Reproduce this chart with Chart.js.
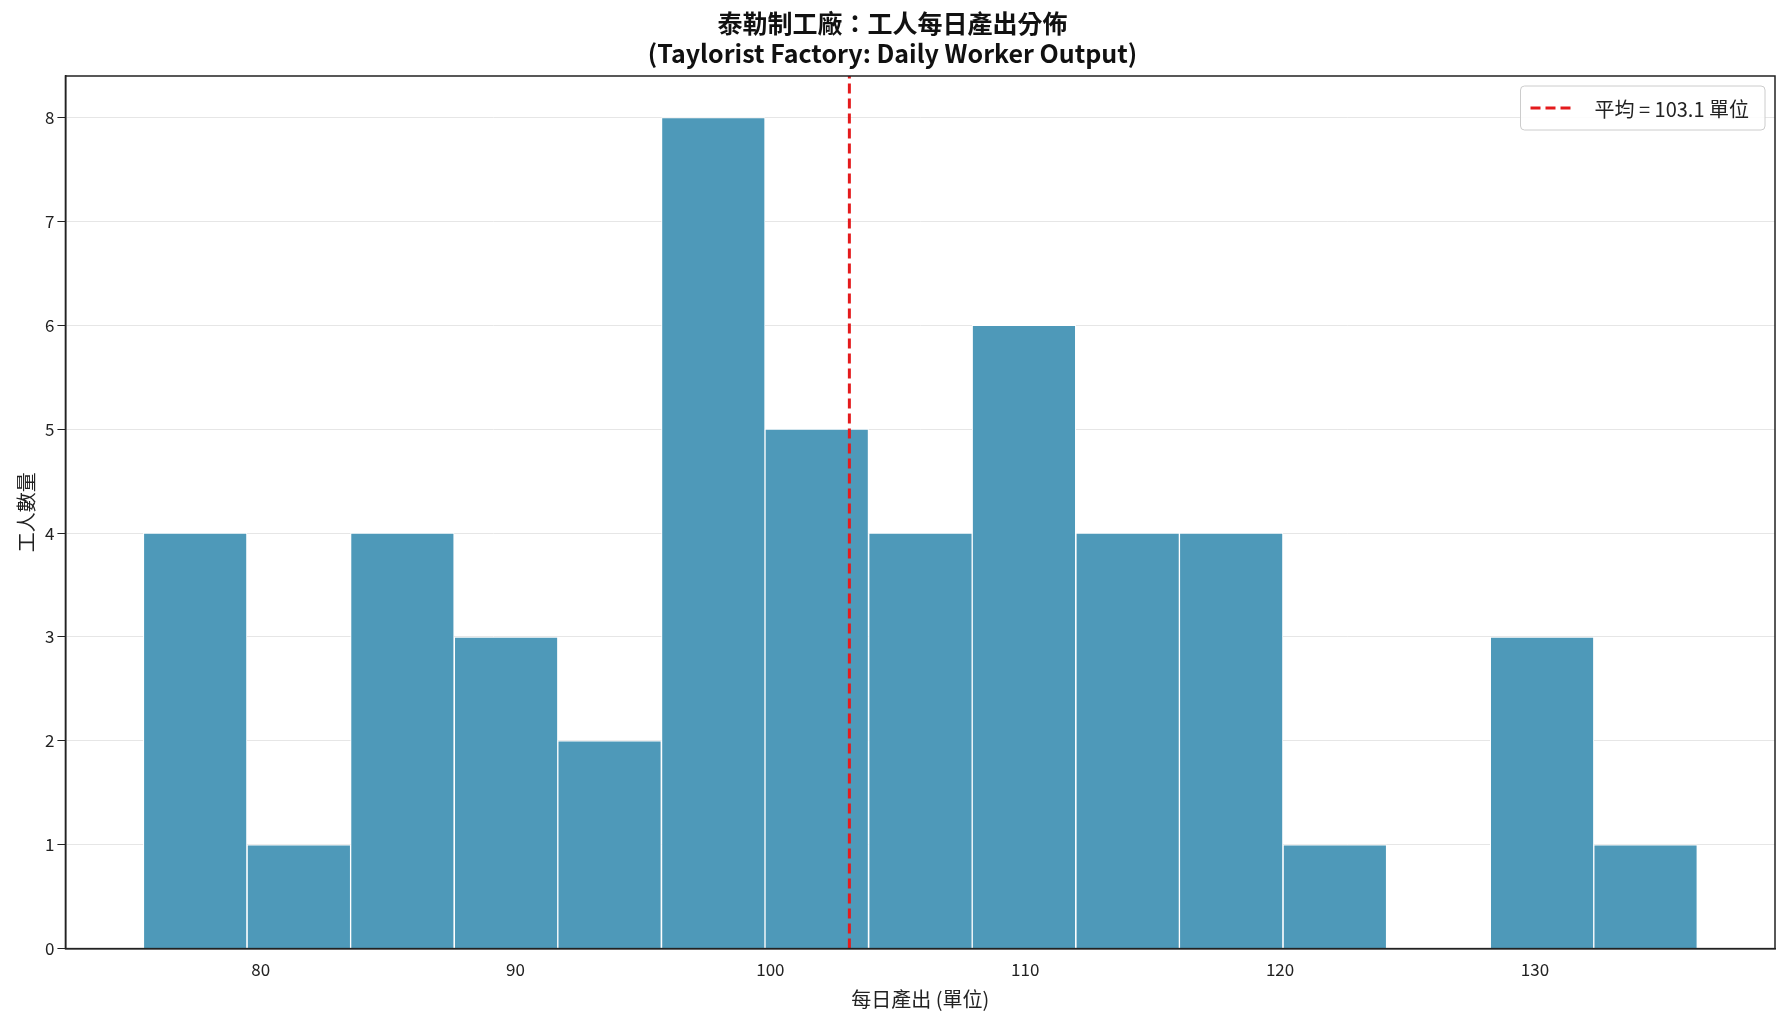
<!DOCTYPE html>
<html><head><meta charset="utf-8">
<script src="https://cdn.jsdelivr.net/npm/chart.js@4"></script>
<style>html,body{margin:0;background:#fff}#w{width:1783px;height:1029px}</style>
</head><body><div id="w"><canvas id="c"></canvas></div>
<script>
const binCenters = [77.43,81.50,85.56,89.63,93.69,97.76,101.82,105.89,109.95,114.02,118.08,122.15,126.21,130.28,134.34];
const counts = [4,1,4,3,2,8,5,4,6,4,4,1,0,3,1];
const meanValue = 103.1;
const xTicks = [80,90,100,110,120,130];
const yTicks = [0,1,2,3,4,5,6,7,8];
const F = "'Noto Sans CJK TC','Noto Sans',sans-serif";
const frame = {id:'frame',afterDraw(ch){const a=ch.chartArea,c=ch.ctx;c.save();c.strokeStyle='#222';c.lineWidth=1.5;c.strokeRect(a.left,a.top,a.right-a.left,a.bottom-a.top);
 const ds=ch.data.datasets[0];c.font='20px '+F;const tw=c.measureText(ds.label).width;
 const w=tw+90,h=44,x=a.right-w-10,y=a.top+10;
 c.fillStyle='rgba(255,255,255,0.85)';c.strokeStyle='#ccc';c.lineWidth=1;c.beginPath();c.roundRect(x,y,w,h,4);c.fill();c.stroke();
 c.strokeStyle=ds.borderColor;c.lineWidth=3;c.setLineDash([10,5]);c.beginPath();c.moveTo(x+10,y+h/2);c.lineTo(x+50,y+h/2);c.stroke();c.setLineDash([]);
 c.fillStyle='#222';c.textBaseline='middle';c.fillText(ds.label,x+74,y+h/2+1);c.restore();}};
new Chart(document.getElementById('c'),{
 type:'bar',
 data:{datasets:[
  {type:'line',label:'平均 = '+meanValue+' 單位',data:[{x:meanValue,y:0},{x:meanValue,y:8.4}],borderColor:'#e41a1c',borderWidth:3,borderDash:[10,5],pointRadius:0,order:0},
  {label:'hist',data:binCenters.map((x,i)=>({x,y:counts[i]})),backgroundColor:'#4e99b9',borderColor:'#ffffff',borderWidth:1,barPercentage:1,categoryPercentage:1,order:1}
 ]},
 options:{responsive:true,maintainAspectRatio:false,animation:false,
  layout:{padding:{left:10,right:8,top:0,bottom:14}},
  plugins:{
   title:{display:true,text:['泰勒制工廠：工人每日產出分佈','(Taylorist Factory: Daily Worker Output)'],font:{family:F,size:25,weight:'bold'},color:'#111',padding:{top:8,bottom:8},lineHeight:1.2},
   legend:{display:false},
   tooltip:{enabled:false}
  },
  scales:{
   x:{type:'linear',offset:false,min:72.34,max:139.42,grid:{display:false},border:{color:'#222',width:1.5},
      afterBuildTicks(s){s.ticks=xTicks.map(v=>({value:v}));},
      ticks:{font:{family:F,size:17},color:'#222'},
      title:{display:true,text:'每日產出 (單位)',font:{family:F,size:20},color:'#222'}},
   y:{min:0,max:8.4,grid:{color:'#e6e6e6',drawTicks:true,tickColor:'#222'},border:{color:'#222',width:1.5},
      afterBuildTicks(s){s.ticks=yTicks.map(v=>({value:v}));},
      ticks:{font:{family:F,size:17},color:'#222'},
      title:{display:true,text:'工人數量',font:{family:F,size:20},color:'#222'}}
  }
 },
 plugins:[frame]
});
</script></body></html>
